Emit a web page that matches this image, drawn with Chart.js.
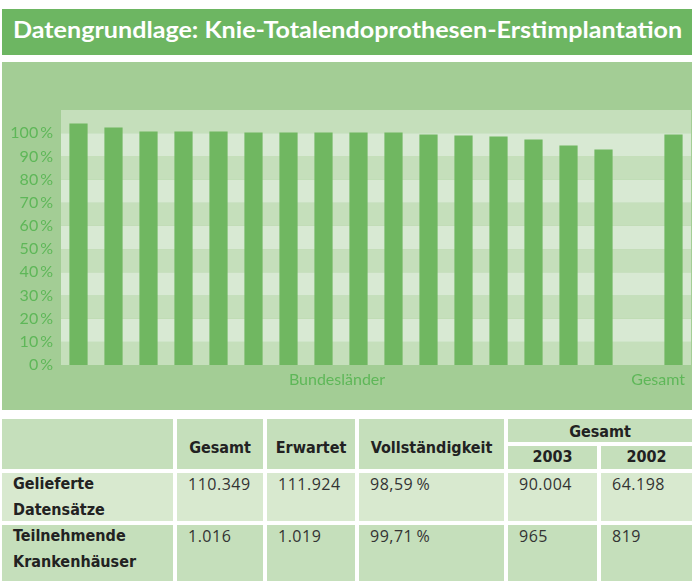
<!DOCTYPE html>
<html>
<head>
<meta charset="utf-8">
<script src="https://cdn.jsdelivr.net/npm/chart.js@4/dist/chart.umd.min.js"></script>
<style>
  body { margin: 0; background: #fff; width: 697px; height: 581px; overflow: hidden; position: relative; }
  #titel { position: absolute; left: 2px; top: 9px; width: 690px; height: 46px; background: #6db662; }
  #titel span { position: absolute; left: 11px; top: 7px; color: #fff; font: bold 22px Lato, sans-serif; white-space: nowrap; transform-origin: left center; }
  #panel { position: absolute; left: 2px; top: 62px; width: 690px; height: 348px; background: #a3cd95; }
  table { position: absolute; left: -2px; top: 415px; width: 698px; border-collapse: separate; border-spacing: 4px; table-layout: fixed;
          font-family: 'DejaVu Sans Condensed', Lato, sans-serif; font-size: 16px; color: #222; }
  th { background: #c5dfbb; font-weight: bold; text-align: center; padding: 0; }
  th.k { vertical-align: top; }
  th.k div { position: relative; top: 19px; }
  th.o div { position: relative; top: 1px; }
  th.j div { position: relative; top: -1px; }
  td { vertical-align: top; padding: 0; }
  td div { position: relative; top: -2px; height: 48px; line-height: 26px; white-space: pre-line; padding-left: 11px;
           font-family: 'Open Sans', sans-serif; font-size: 16px; letter-spacing: 0.5px; color: #333; }
  td.lab div { font-family: 'DejaVu Sans Condensed', Lato, sans-serif; font-weight: bold; color: #222; letter-spacing: 0; }
  tr.r1 td { background: #d8e9cf; height: 48px; }
  tr.r2 td { background: #c5dfbb; height: 60px; }
</style>
</head>
<body>
<div id="titel"><span id="titeltext">Datengrundlage: Knie-Totalendoprothesen-Erstimplantation</span></div>
<div id="panel"><canvas id="chart" width="690" height="348"></canvas></div>
<table id="tab">
  <colgroup>
    <col style="width:171px"><col style="width:86px"><col style="width:88px"><col style="width:145px"><col style="width:89px"><col style="width:91px">
  </colgroup>
</table>
<script>
// Vollständigkeit je Bundesland (in %), dazu Gesamt
const laender = ['1','2','3','4','5','6','7','8','9','10','11','12','13','14','15','16'];
const anteilLaender = [104.2, 102.5, 100.7, 100.7, 100.7, 100.3, 100.3, 100.3, 100.3, 100.3, 99.4, 99.0, 98.6, 97.3, 94.7, 93.0];
const anteilGesamt = 99.4;
const yTicks = [0, 10, 20, 30, 40, 50, 60, 70, 80, 90, 100];

// Tabelle
const spalten = ['Gesamt', 'Erwartet', 'Vollständigkeit'];
const jahre = ['2003', '2002'];
const zeilen = ['Gelieferte\nDatensätze', 'Teilnehmende\nKrankenhäuser'];
const gesamt = ['110.349', '1.016'];
const erwartet = ['111.924', '1.019'];
const vollstaendigkeit = ['98,59\u2009%', '99,71\u2009%'];
const gesamt2003 = ['90.004', '965'];
const gesamt2002 = ['64.198', '819'];

// Titel auf Breite bringen
const tt = document.getElementById('titeltext');
tt.style.transform = 'scaleX(' + (669 / tt.offsetWidth) + ')';

const gruen = '#5eb758';
const labels = [...laender, '', 'Gesamt'];
const werte = [...anteilLaender, null, anteilGesamt];

const baender = {
  id: 'baender',
  beforeDatasetsDraw(chart) {
    const { ctx, chartArea, scales: { y } } = chart;
    for (let i = 0; i < 11; i++) {
      const top = y.getPixelForValue(i * 10 + 10);
      const bottom = y.getPixelForValue(i * 10);
      ctx.fillStyle = i % 2 === 0 ? '#c5dfbb' : '#d8e9d3';
      ctx.fillRect(chartArea.left, top, chartArea.right - chartArea.left, bottom - top);
    }
  },
  afterDraw(chart) {
    const { ctx, chartArea, scales: { x } } = chart;
    ctx.save();
    ctx.fillStyle = gruen;
    ctx.font = '16px Lato, sans-serif';
    ctx.textBaseline = 'middle';
    ctx.textAlign = 'center';
    const mitte = (x.getPixelForValue(7) + x.getPixelForValue(8)) / 2 - 4;
    ctx.fillText('Bundesländer', mitte, chartArea.bottom + 15);
    ctx.textAlign = 'right';
    ctx.fillText('Gesamt', chartArea.right - 6, chartArea.bottom + 15);
    ctx.restore();
  }
};

new Chart(document.getElementById('chart'), {
  type: 'bar',
  data: {
    labels: labels,
    datasets: [{
      data: werte,
      backgroundColor: '#70b761',
      barPercentage: 0.52,
      categoryPercentage: 1
    }]
  },
  options: {
    responsive: false,
    animation: false,
    devicePixelRatio: 1,
    layout: { padding: { top: 48, left: 0, right: 1, bottom: 0 } },
    plugins: { legend: { display: false }, tooltip: { enabled: false } },
    scales: {
      x: {
        grid: { display: false },
        border: { display: false },
        ticks: { display: false },
        afterFit(scale) { scale.height = 45; }
      },
      y: {
        min: 0,
        max: 110,
        grid: { display: false },
        border: { display: false },
        afterBuildTicks(scale) { scale.ticks = yTicks.map(v => ({ value: v })); },
        afterFit(scale) { scale.width = 59; },
        ticks: {
          color: gruen,
          padding: 0,
          font: { family: 'Lato, sans-serif', size: 16 },
          callback: v => v + '\u2009%'
        }
      }
    }
  },
  plugins: [baender]
});

// Tabelle aufbauen
const tab = document.getElementById('tab');
let html = '<tr><th rowspan="2" style="height:45px"></th>';
spalten.forEach(s => { html += '<th rowspan="2" class="k"><div>' + s + '</div></th>'; });
html += '<th colspan="2" class="o" style="height:23px"><div>Gesamt</div></th></tr><tr>';
jahre.forEach(j => { html += '<th class="j" style="height:23px"><div>' + j + '</div></th>'; });
html += '</tr>';
zeilen.forEach((z, i) => {
  const zellen = [gesamt[i], erwartet[i], vollstaendigkeit[i], gesamt2003[i], gesamt2002[i]];
  html += '<tr class="r' + (i + 1) + '"><td class="lab"><div>' + z + '</div></td>' +
          zellen.map(w => '<td><div>' + w + '</div></td>').join('') + '</tr>';
});
tab.insertAdjacentHTML('beforeend', html);
</script>
</body>
</html>
